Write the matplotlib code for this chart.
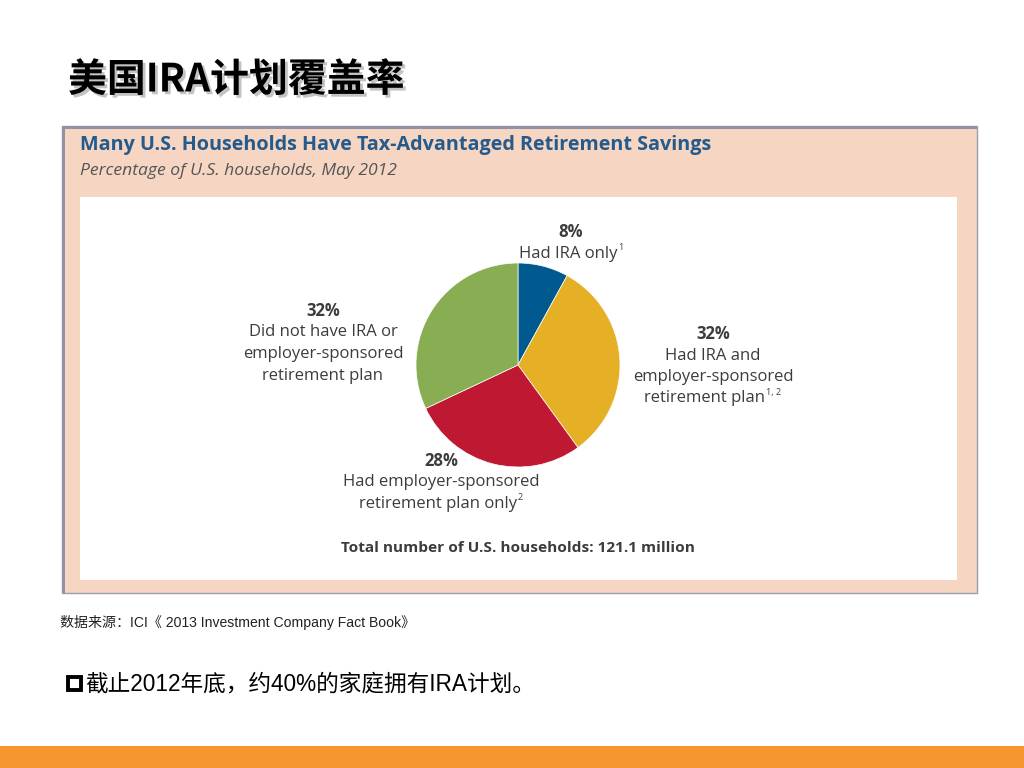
import matplotlib
matplotlib.use("Agg")
import matplotlib.pyplot as plt
from matplotlib.patches import Rectangle
import matplotlib.patheffects as pe

# ---- data ----
categories = ["Had IRA only", "Had IRA and employer-sponsored retirement plan",
              "Had employer-sponsored retirement plan only",
              "Did not have IRA or employer-sponsored retirement plan"]
values = [8, 32, 28, 32]
colors = ["#005A8F", "#E6B026", "#BF1832", "#88AD52"]
pct_labels = ["8%", "32%", "28%", "32%"]
desc_labels = [
    [("Had IRA only", "1")],
    [("Had IRA and", ""), ("employer-sponsored", ""), ("retirement plan", "1, 2")],
    [("Had employer-sponsored", ""), ("retirement plan only", "2")],
    [("Did not have IRA or", ""), ("employer-sponsored", ""), ("retirement plan", "")],
]
page_title = "美国IRA计划覆盖率"
chart_title = "Many U.S. Households Have Tax-Advantaged Retirement Savings"
chart_subtitle = "Percentage of U.S. households, May 2012"
total_note = "Total number of U.S. households: 121.1 million"
source_note = "数据来源：ICI《 2013 Investment Company Fact Book》"
bullet_note = "截止2012年底，约40%的家庭拥有IRA计划。"

W, H = 1024, 768
fig = plt.figure(figsize=(W / 100, H / 100), dpi=100)
bg = fig.add_axes([0, 0, 1, 1])
bg.set_xlim(0, W)
bg.set_ylim(H, 0)
bg.axis("off")

cjk = ["Noto Sans CJK SC", "DejaVu Sans"]
txt_col = "#3C3C3C"

# page title
bg.text(68, 80, page_title, fontsize=28, fontweight="bold", family=cjk,
        color="black", va="center", ha="left",
        path_effects=[pe.withSimplePatchShadow(offset=(2, -2), shadow_rgbFace="#888888", alpha=0.5)])

# panel
bg.add_patch(Rectangle((62, 126), 915, 467, facecolor="#F6D6C2", edgecolor="#9A9DB0", linewidth=1))
bg.add_patch(Rectangle((62, 126), 3, 467, facecolor="#8E93AA", edgecolor="none"))
bg.add_patch(Rectangle((62, 126), 915, 3, facecolor="#8E93AA", edgecolor="none"))
bg.add_patch(Rectangle((80, 197), 877, 383, facecolor="white", edgecolor="none"))

bg.text(80, 145, chart_title, fontsize=14.2, fontweight="bold", family="Open Sans",
        color="#245A8C", va="center", ha="left")
bg.text(80, 171, chart_subtitle, fontsize=12.6, style="italic", family="Open Sans",
        color="#555555", va="center", ha="left")

# pie
cx, cy, r = 518, 365, 102
pax = fig.add_axes([(cx - r) / W, 1 - (cy + r) / H, 2 * r / W, 2 * r / H])
pax.pie(values, colors=colors, startangle=90, counterclock=False,
        wedgeprops=dict(edgecolor="white", linewidth=0.5))
pax.set_xlim(-1, 1)
pax.set_ylim(-1, 1)
pax.set_aspect("auto")
pax.axis("off")

renderer = fig.canvas.get_renderer()

def px_width(t):
    bb = t.get_window_extent(renderer=renderer)
    return bb.width

# labels (pixel positions of block centers)
label_pos = [(571, 232), (713, 334), (441, 461), (323, 311)]
lh = 21.5
for (x, y), pct, lines in zip(label_pos, pct_labels, desc_labels):
    bg.text(x, y, pct, fontsize=12, fontweight="bold", family="Open Sans",
            color=txt_col, ha="center", va="center")
    for i, (ln, sup) in enumerate(lines):
        yy = y + lh * (i + 1)
        if not sup:
            bg.text(x, yy, ln, fontsize=12, family="Open Sans",
                    color=txt_col, ha="center", va="center")
            continue
        t = bg.text(0, yy, ln, fontsize=12, family="Open Sans",
                    color=txt_col, ha="left", va="center")
        s = bg.text(0, yy - 6, sup, fontsize=6.5, family="Open Sans",
                    color=txt_col, ha="left", va="center")
        wt, ws = px_width(t), px_width(s)
        x0 = x - (wt + 1 + ws) / 2
        t.set_x(x0)
        s.set_x(x0 + wt + 1)

bg.text(518, 548, total_note, fontsize=11.1, fontweight="bold", family="Open Sans",
        color=txt_col, ha="center", va="center")

# source
bg.text(60, 622, source_note, fontsize=10.1, family=["Liberation Sans", "Noto Sans CJK SC"],
        color="#222222", ha="left", va="center")

# bullet
bg.add_patch(Rectangle((68, 677), 13, 13, facecolor="white", edgecolor="black", linewidth=2.8))
bg.text(85, 684, bullet_note, fontsize=16.3, family=["Liberation Sans", "Noto Sans CJK SC"],
        color="black", ha="left", va="center")

# orange bar
bg.add_patch(Rectangle((0, 746), W, 22, facecolor="#F7962F", edgecolor="none"))

fig.savefig("out.png", dpi=100)
